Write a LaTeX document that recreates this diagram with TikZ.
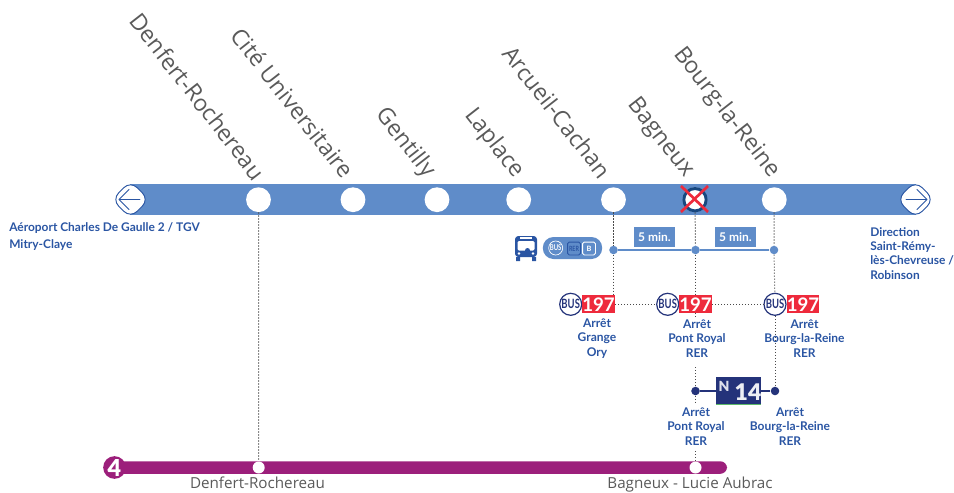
\documentclass[tikz,border=0pt]{standalone}
\usepackage{fontspec}
\setmainfont{Lato}
\newfontfamily\opensans{Open Sans}
\newfontfamily\narrowbold[FakeStretch=0.74]{Lato Bold}
\newfontfamily\heavy{Lato Black}
\definecolor{bandblue}{HTML}{5F8CC9}
\definecolor{textblue}{HTML}{2A55A3}
\definecolor{navy}{HTML}{24337A}
\definecolor{ringblue}{HTML}{17477F}
\definecolor{metro}{HTML}{9C1F7B}
\definecolor{busred}{HTML}{EE2A3C}
\definecolor{labelgrey}{HTML}{5A5A5A}
\definecolor{dotgrey}{HTML}{4A4A4A}
\definecolor{n14green}{HTML}{5DB96A}
\tikzset{
 x=0.75pt,y=-0.75pt,
 stationdot/.style={circle,fill=white,inner sep=0pt,minimum size=18.6pt},
 stationname/.style={font=\opensans\fontsize{17.2pt}{20pt}\selectfont,text=labelgrey,rotate=-52,anchor=east,inner sep=0pt},
 metrostop/.style={circle,fill=white,inner sep=0pt,minimum size=9pt},
 metroname/.style={font=\opensans\fontsize{11.4pt}{13pt}\selectfont,text=labelgrey,inner sep=0pt,anchor=base},
 linkdot/.style={circle,fill=bandblue,inner sep=0pt,minimum size=6.4pt},
 nightdot/.style={circle,fill=navy,inner sep=0pt,minimum size=6.4pt},
 dotline/.style={draw=dotgrey,line width=0.75pt,dash pattern=on 0.9pt off 1.35pt},
 endcap/.style={draw=textblue,fill=white,line width=0.7pt,rounded corners=7pt},
 walkbox/.style={fill=bandblue,text=white,minimum width=30.75pt,minimum height=15pt,inner sep=0pt,font=\fontsize{9pt}{10pt}\selectfont\bfseries},
 buscircle/.style={circle,draw=navy,fill=white,line width=0.9pt,minimum size=16.5pt,inner sep=0pt,text=navy,font=\narrowbold\fontsize{9.6pt}{10pt}\selectfont},
 busnum/.style={fill=busred,text=white,minimum width=24.5pt,minimum height=13.5pt,inner sep=0pt,font=\fontsize{14pt}{15pt}\selectfont\bfseries},
 stoptext/.style={align=center,text=textblue,inner sep=0pt,font=\fontsize{9pt}{10.7pt}\selectfont\bfseries},
 dirtext/.style={align=left,anchor=north west,text=textblue,inner sep=0pt,font=\fontsize{8.95pt}{10.8pt}\selectfont\bfseries},
}
\begin{document}
\begin{tikzpicture}
\useasboundingbox (0,0) rectangle (954,493);
% main band
\fill[bandblue] (130,184) rectangle (916,215);
\path[endcap] (112,199.5) -- (130.5,181) -- (149,199.5) -- (130.5,218) -- cycle;
\path[endcap] (897,199.5) -- (915.5,181) -- (934,199.5) -- (915.5,218) -- cycle;
\draw[textblue,line width=0.7pt,line cap=round,line join=round] (140,199.5) -- (119,199.5) (129,189.5) -- (119,199.5) -- (129,209.5);
\draw[textblue,line width=0.7pt,line cap=round,line join=round] (906,199.5) -- (927,199.5) (917,189.5) -- (927,199.5) -- (917,209.5);
% stations
\node[stationdot] (s1) at (258.5,199.7) {};
\node[stationdot] (s2) at (353,199.7) {};
\node[stationdot] (s3) at (437,199.7) {};
\node[stationdot] (s4) at (518.7,199.7) {};
\node[stationdot] (s5) at (613.5,199.7) {};
\node[stationdot] (s6) at (695,199.7) {};
\node[stationdot] (s7) at (774.3,199.7) {};
\draw[ringblue,line width=2.2pt] (s6.center) circle (11.2);
\draw[busred,line width=2pt] (681,186) -- (708,212) (708,186) -- (681,212);
% names
\node[stationname] at (260.5,177) {Denfert-Rochereau};
\node[stationname] at (349,175) {Cité Universitaire};
\node[stationname] at (430,175) {Gentilly};
\node[stationname] at (519,175.5) {Laplace};
\node[stationname] at (606.5,175) {Arcueil-Cachan};
\node[stationname] at (689,175) {Bagneux};
\node[stationname] at (775,175) {Bourg-la-Reine};
% metro line
\fill[metro,rounded corners=5pt] (114,461.3) rectangle (727,473.8);
\node[circle,fill=metro,text=white,inner sep=0pt,minimum size=17pt,font=\heavy\fontsize{17.5pt}{18pt}\selectfont] (m4) at (114.5,467.5) {4};
\node[metrostop] (m1) at (258.7,467.5) {};
\node[metrostop] (m2) at (695.5,467.5) {};
\node[metroname] at (257.5,488) {Denfert-Rochereau};
\node[metroname] at (690,488) {Bagneux - Lucie Aubrac};
% walking link
\node[linkdot] (l1) at (613.5,250) {};
\node[linkdot] (l2) at (695.5,250) {};
\node[linkdot] (l3) at (774,250) {};
\draw[bandblue,line width=1.2pt] (l1) -- (l2) -- (l3);
\node[walkbox] at (654.5,237) {5 min.};
\node[walkbox] at (735.5,237) {5 min.};
% bus 197
\node[buscircle] (b1) at (570.7,304.3) {BUS};
\node[busnum] (n1) at (598.5,304.3) {197};
\node[buscircle] (b2) at (667.7,304.3) {BUS};
\node[busnum] (n2) at (695.5,304.3) {197};
\node[buscircle] (b3) at (775,304.3) {BUS};
\node[busnum] (n3) at (803,304.3) {197};
\node[stoptext] at (597,338.5) {Arrêt\\Grange\\Ory};
\node[stoptext] at (697,338.5) {Arrêt\\Pont Royal\\RER};
\node[stoptext] at (804.5,338.5) {Arrêt\\Bourg-la-Reine\\RER};
% night bus
\node[nightdot] (d1) at (695.5,391) {};
\node[nightdot] (d2) at (775,391) {};
\draw[navy,line width=0.9pt] (d1) -- (d2);
\node[fill=navy,minimum width=33.7pt,minimum height=21pt,inner sep=0pt] (n14) at (738.5,391) {};
\fill[n14green] (n14.south west) rectangle ++(45,-1.5);
\node[text=white!85!navy,inner sep=0pt,font=\heavy\fontsize{10.5pt}{11pt}\selectfont] at (724,386) {N};
\node[text=white!92!navy,inner sep=0pt,font=\heavy\fontsize{17.2pt}{18pt}\selectfont] at (748,392) {14};
\node[stoptext] at (696,426.5) {Arrêt\\Pont Royal\\RER};
\node[stoptext] at (790,426.5) {Arrêt\\Bourg-la-Reine\\RER};
% dotted connectors
\path[dotline] (s1) -- (m1);
\path[dotline] (s5) -- (l1);
\path[dotline] (l1) -- (613.5,296);
\path[dotline] (s6) -- (l2);
\path[dotline] (l2) -- (695.5,296);
\path[dotline] (s7) -- (l3);
\path[dotline] (l3) -- (b3);
\path[dotline] (n1) -- (b2);
\path[dotline] (n2) -- (b3);
\path[dotline] (695.5,313) -- (695.5,318);
\path[dotline] (695.5,367) -- (d1);
\path[dotline] (d1) -- (695.5,404);
\path[dotline] (695.5,451) -- (m2);
\path[dotline] (b3) -- (d2);
% bus pill
\node[fill=bandblue,rounded corners=8pt,minimum width=44.5pt,minimum height=16.5pt,inner sep=0pt] (pill) at (572.5,248) {};
\node[circle,draw=white,line width=0.5pt,minimum size=10.5pt,inner sep=0pt,text=white,font=\narrowbold\fontsize{6pt}{6pt}\selectfont] at (555.7,248) {BUS};
\node[draw=textblue,rounded corners=1.2pt,line width=0.6pt,minimum width=9.6pt,minimum height=9.6pt,inner sep=0pt,text=textblue,font=\narrowbold\fontsize{5.4pt}{6pt}\selectfont] at (574,248.5) {RER};
\node[draw=white,rounded corners=1.2pt,line width=0.6pt,minimum width=9.6pt,minimum height=9.6pt,inner sep=0pt,text=white,font=\fontsize{5.5pt}{6pt}\selectfont\bfseries] at (589,248.5) {B};
% bus icon
\fill[textblue,rounded corners=2.5pt] (515,236) rectangle (537,257);
\fill[textblue] (516,257) rectangle (520,261) (532,257) rectangle (536,261);
\fill[white,rounded corners=1pt] (517.5,241) rectangle (534.5,250.5);
\fill[white] (520,237) rectangle (532,238.5);
\fill[white] (519,253.5) circle (1.3) (533,253.5) circle (1.3);
\fill[textblue] (527.5,250.5) circle (2.5);
% direction texts
\node[dirtext] at (9,222.5) {Aéroport Charles De Gaulle 2 / TGV\\[2.2pt]Mitry-Claye};
\node[dirtext] at (870,227) {Direction\\Saint-Rémy-\\lès-Chevreuse /\\Robinson};
\end{tikzpicture}
\end{document}
